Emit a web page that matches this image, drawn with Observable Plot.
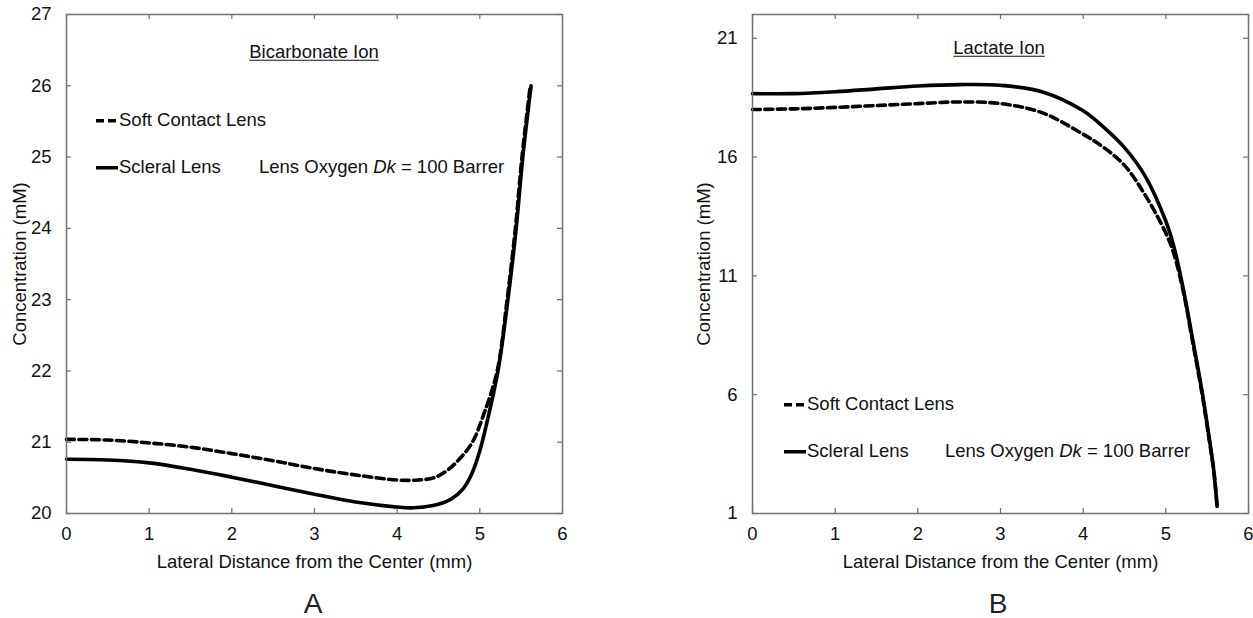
<!DOCTYPE html>
<html>
<head>
<meta charset="utf-8">
<script src="https://cdn.jsdelivr.net/npm/d3@7"></script>
<script src="https://cdn.jsdelivr.net/npm/@observablehq/plot@0.6"></script>
<style>
  html, body { margin: 0; padding: 0; background: #fff; }
  #wrap { position: relative; width: 1253px; height: 618px; overflow: hidden; background: #fff;
          font-family: "Liberation Sans", Arial, sans-serif; color: #111; }
  .panel { position: absolute; top: 0; }
  .ann { position: absolute; font-size: 18.5px; line-height: 1; white-space: nowrap; }
  .c { transform: translate(-50%, -50%); }
  .l { transform: translateY(-50%); }
  .u { text-decoration: underline; text-underline-offset: 2px; }
  .sample { display: inline-block; vertical-align: middle; margin-right: 1px; }
  .letter { position: absolute; font-size: 28px; line-height: 1; transform: translate(-50%, -50%); color: #222; }
</style>
</head>
<body>
<div id="wrap"></div>
<script>
// ---------- Data ----------
const xTicks = [0, 1, 2, 3, 4, 5, 6];

// Panel A: Bicarbonate ion
const bicTicks = [20, 21, 22, 23, 24, 25, 26, 27];
const bicSoftX  = [0, 0.5, 1, 1.5, 2, 2.5, 3, 3.5, 4, 4.25, 4.44, 4.6, 4.75, 4.91, 5.05, 5.21, 5.33, 5.43, 5.51, 5.61];
const bicSoftY  = [21.04, 21.03, 20.99, 20.93, 20.84, 20.74, 20.63, 20.54, 20.47, 20.47, 20.5, 20.6, 20.76, 21.0, 21.4, 22.0, 23.0, 24.0, 25.0, 26.0];
const bicScleralX = [0, 0.5, 1, 1.5, 2, 2.5, 3, 3.5, 4, 4.2, 4.5, 4.65, 4.8, 4.9, 5.0, 5.1, 5.22, 5.34, 5.44, 5.52, 5.62];
const bicScleralY = [20.76, 20.75, 20.71, 20.62, 20.51, 20.39, 20.27, 20.16, 20.09, 20.08, 20.13, 20.2, 20.35, 20.55, 20.88, 21.35, 22.0, 23.0, 24.0, 25.0, 26.0];

// Panel B: Lactate ion
const lacTicks = [1, 6, 11, 16, 21];
const lacSoftX  = [0, 0.5, 1, 1.5, 2, 2.5, 3, 3.5, 4, 4.25, 4.5, 4.75, 5.0, 5.1, 5.22, 5.31, 5.44, 5.52, 5.58, 5.62];
const lacSoftY  = [18.0, 18.03, 18.09, 18.17, 18.25, 18.32, 18.25, 17.87, 16.96, 16.4, 15.65, 14.4, 12.8, 11.9, 10.2, 8.5, 6.0, 4.2, 2.8, 1.3];
const lacScleralX = [0, 0.5, 1, 1.5, 2, 2.5, 3, 3.5, 4, 4.25, 4.5, 4.75, 5.0, 5.1, 5.22, 5.31, 5.44, 5.52, 5.58, 5.62];
const lacScleralY = [18.67, 18.67, 18.75, 18.87, 18.99, 19.05, 19.02, 18.75, 17.95, 17.25, 16.4, 15.2, 13.3, 12.2, 10.3, 8.6, 6.1, 4.3, 2.8, 1.3];

const seriesLabels = ["Soft Contact Lens", "Scleral Lens"];
const xLabel = "Lateral Distance from the Center (mm)";
const yLabel = "Concentration (mM)";

// ---------- Helpers ----------
const toRows = (xs, ys) => xs.map((x, i) => ({x, y: ys[i]}));
const W = 496, H = 499;
const frameColor = "#707070";

function panel({left, width, marginLeft, marginRight, yDomain, yTicks, yLabelOffset, soft, scleral}) {
  const svg = Plot.plot({
    width, height: 580,
    marginLeft, marginRight, marginTop: 14, marginBottom: 67,
    style: {fontFamily: '"Liberation Sans", Arial, sans-serif', fontSize: "18.5px", color: "#111", background: "transparent", overflow: "visible"},
    x: {domain: [0, 6]},
    y: {domain: yDomain},
    marks: [
      Plot.line(soft, {x: "x", y: "y", stroke: "#000", strokeWidth: 3.6, strokeDasharray: "8,4.5", curve: "catmull-rom"}),
      Plot.line(scleral, {x: "x", y: "y", stroke: "#000", strokeWidth: 3.6, curve: "catmull-rom"}),
      Plot.frame({stroke: frameColor, strokeWidth: 1.5}),
      Plot.tickX(xTicks, {x: d => d, insetTop: H - 5, stroke: frameColor, strokeWidth: 1.2}),
      Plot.tickX(xTicks, {x: d => d, insetBottom: H - 5, stroke: frameColor, strokeWidth: 1.2}),
      Plot.tickY(yTicks, {y: d => d, insetRight: W - 5, stroke: frameColor, strokeWidth: 1.2}),
      Plot.tickY(yTicks, {y: d => d, insetLeft: W - 5, stroke: frameColor, strokeWidth: 1.2}),
      Plot.axisX(xTicks, {tickSize: 0, tickPadding: 13, tickFormat: d3.format("d"), label: xLabel, labelAnchor: "center", labelOffset: 54, labelArrow: "none"}),
      Plot.axisY(yTicks, {tickSize: 0, tickPadding: 15, tickFormat: d3.format("d"), label: yLabel, labelAnchor: "center", labelOffset: yLabelOffset, labelArrow: "none"})
    ]
  });
  svg.classList.add("panel");
  svg.style.left = left + "px";
  return svg;
}

const wrap = document.getElementById("wrap");
wrap.appendChild(panel({left: 0, width: 620, marginLeft: 66, marginRight: 58, yDomain: [20, 27], yTicks: bicTicks, yLabelOffset: 54,
  soft: toRows(bicSoftX, bicSoftY), scleral: toRows(bicScleralX, bicScleralY)}));
wrap.appendChild(panel({left: 630, width: 623, marginLeft: 122, marginRight: 5, yDomain: [1, 22], yTicks: lacTicks, yLabelOffset: 56,
  soft: toRows(lacSoftX, lacSoftY), scleral: toRows(lacScleralX, lacScleralY)}));

// ---------- Annotations ----------
const dashSample = '<svg class="sample" width="22" height="8"><line x1="0" y1="4" x2="22" y2="4" stroke="#000" stroke-width="3.6" stroke-dasharray="8,4"/></svg>';
const solidSample = '<svg class="sample" width="22" height="8"><line x1="0" y1="4" x2="22" y2="4" stroke="#000" stroke-width="3.6"/></svg>';
const dkText = 'Lens Oxygen <i>Dk</i> = 100 Barrer';

function ann(html, x, y, cls) {
  const d = document.createElement("div");
  d.className = "ann " + cls;
  d.style.left = x + "px";
  d.style.top = y + "px";
  d.innerHTML = html;
  wrap.appendChild(d);
}
function letter(t, x, y) {
  const d = document.createElement("div");
  d.className = "letter";
  d.style.left = x + "px";
  d.style.top = y + "px";
  d.textContent = t;
  wrap.appendChild(d);
}

// Panel A
ann('<span class="u">Bicarbonate Ion</span>', 314, 52, "c");
ann(dashSample + seriesLabels[0], 96, 120, "l");
ann(solidSample + seriesLabels[1], 96, 167, "l");
ann(dkText, 259, 167, "l");
letter("A", 313, 604);

// Panel B
ann('<span class="u">Lactate Ion</span>', 999, 48, "c");
ann(dashSample + seriesLabels[0], 784, 404, "l");
ann(solidSample + seriesLabels[1], 784, 451, "l");
ann(dkText, 945, 451, "l");
letter("B", 998, 604);
</script>
</body>
</html>
